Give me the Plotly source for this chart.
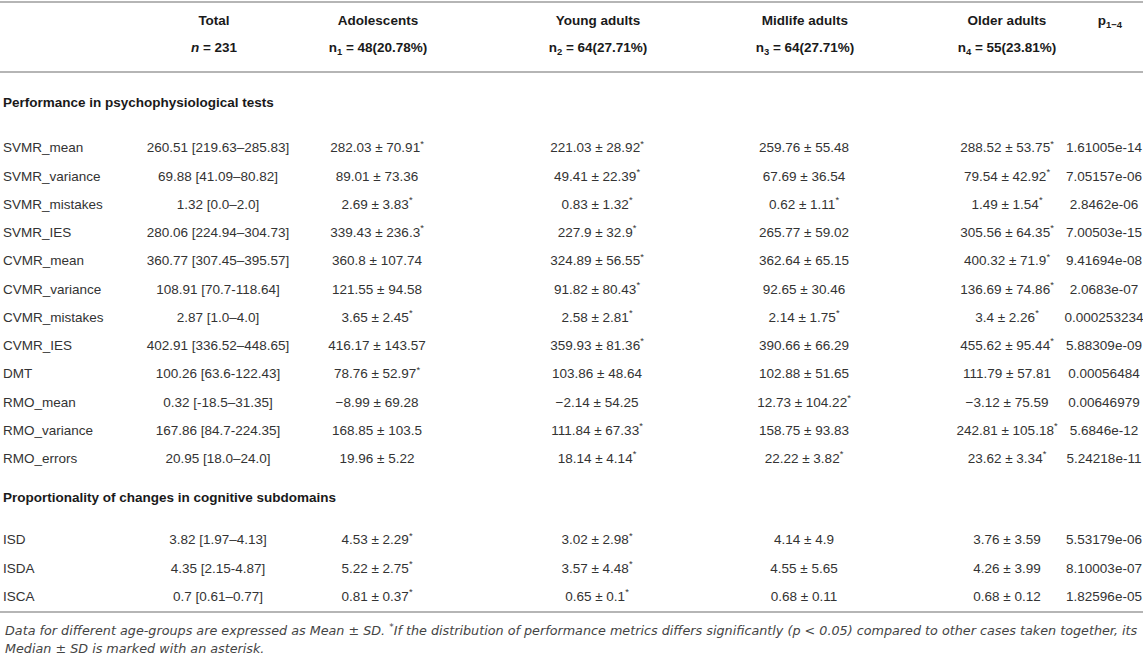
import plotly.graph_objects as go

# ---- data ----
col_headers = ["Total", "Adolescents", "Young adults", "Midlife adults", "Older adults", "p<sub>1−4</sub>"]
col_counts = ["<i>n</i> = 231", "n<sub>1</sub> = 48(20.78%)", "n<sub>2</sub> = 64(27.71%)",
              "n<sub>3</sub> = 64(27.71%)", "n<sub>4</sub> = 55(23.81%)", ""]

section_1 = "Performance in psychophysiological tests"
section_2 = "Proportionality of changes in cognitive subdomains"

labels_1 = ["SVMR_mean", "SVMR_variance", "SVMR_mistakes", "SVMR_IES", "CVMR_mean", "CVMR_variance",
            "CVMR_mistakes", "CVMR_IES", "DMT", "RMO_mean", "RMO_variance", "RMO_errors"]
labels_2 = ["ISD", "ISDA", "ISCA"]

total = ["260.51 [219.63–285.83]", "69.88 [41.09–80.82]", "1.32 [0.0–2.0]", "280.06 [224.94–304.73]",
         "360.77 [307.45–395.57]", "108.91 [70.7-118.64]", "2.87 [1.0–4.0]", "402.91 [336.52–448.65]",
         "100.26 [63.6-122.43]", "0.32 [-18.5–31.35]", "167.86 [84.7-224.35]", "20.95 [18.0–24.0]",
         "3.82 [1.97–4.13]", "4.35 [2.15-4.87]", "0.7 [0.61–0.77]"]

adol_mean = [282.03, 89.01, 2.69, 339.43, 360.8, 121.55, 3.65, 416.17, 78.76, -8.99, 168.85, 19.96, 4.53, 5.22, 0.81]
adol_sd = [70.91, 73.36, 3.83, 236.3, 107.74, 94.58, 2.45, 143.57, 52.97, 69.28, 103.5, 5.22, 2.29, 2.75, 0.37]
adol_sig = [1, 0, 1, 1, 0, 0, 1, 0, 1, 0, 0, 0, 1, 1, 1]

young_mean = [221.03, 49.41, 0.83, 227.9, 324.89, 91.82, 2.58, 359.93, 103.86, -2.14, 111.84, 18.14, 3.02, 3.57, 0.65]
young_sd = [28.92, 22.39, 1.32, 32.9, 56.55, 80.43, 2.81, 81.36, 48.64, 54.25, 67.33, 4.14, 2.98, 4.48, 0.1]
young_sig = [1, 1, 1, 1, 1, 1, 1, 1, 0, 0, 1, 1, 1, 1, 1]

mid_mean = [259.76, 67.69, 0.62, 265.77, 362.64, 92.65, 2.14, 390.66, 102.88, 12.73, 158.75, 22.22, 4.14, 4.55, 0.68]
mid_sd = [55.48, 36.54, 1.11, 59.02, 65.15, 30.46, 1.75, 66.29, 51.65, 104.22, 93.83, 3.82, 4.9, 5.65, 0.11]
mid_sig = [0, 0, 1, 0, 0, 0, 1, 0, 0, 1, 0, 1, 0, 0, 0]

older_mean = [288.52, 79.54, 1.49, 305.56, 400.32, 136.69, 3.4, 455.62, 111.79, -3.12, 242.81, 23.62, 3.76, 4.26, 0.68]
older_sd = [53.75, 42.92, 1.54, 64.35, 71.9, 74.86, 2.26, 95.44, 57.81, 75.59, 105.18, 3.34, 3.59, 3.99, 0.12]
older_sig = [1, 1, 1, 1, 1, 1, 1, 1, 0, 0, 1, 1, 0, 0, 0]

p_values = [1.61005e-14, 7.05157e-06, 2.8462e-06, 7.00503e-15, 9.41694e-08, 2.0683e-07, 0.000253234,
            5.88309e-09, 0.00056484, 0.00646979, 5.6846e-12, 5.24218e-11, 5.53179e-06, 8.10003e-07, 1.82596e-05]

footnote_lines = [
    "Data for different age-groups are expressed as Mean ± SD. <sup>*</sup>If the distribution of "
    "performance metrics differs significantly (p < 0.05) compared to other cases taken together, its",
    "Median ± SD is marked with an asterisk.",
]

# ---- layout constants (pixels) ----
W, H = 1143, 665
FONT = "Arial, Liberation Sans, Helvetica, sans-serif"
NOTE_FONT = "DejaVu Sans, Arial, sans-serif"
TXT = "#333333"
HEAD = "#1a1a1a"
head_x = [214, 378, 598, 805, 1007, 1110]
data_x = [218, 377, 597, 804, 1007, 1104]
label_x = 3
head_y = [22, 49]
sec_y = [104, 499]
row_step = 28.25
first_row_1 = 149
first_row_2 = 541
lines_y = [2, 72, 612]
note_y = [630, 648]


def fmt(v):
    return repr(v).replace("-", "−")


def cell(m, s, flag):
    t = fmt(m) + " ± " + fmt(s)
    return t + "<sup>*</sup>" if flag else t


n1 = len(labels_1)
row_y = [first_row_1 + i * row_step for i in range(n1)] + \
        [first_row_2 + i * row_step for i in range(len(labels_2))]
labels = labels_1 + labels_2

columns = [
    total,
    [cell(m, s, f) for m, s, f in zip(adol_mean, adol_sd, adol_sig)],
    [cell(m, s, f) for m, s, f in zip(young_mean, young_sd, young_sig)],
    [cell(m, s, f) for m, s, f in zip(mid_mean, mid_sd, mid_sig)],
    [cell(m, s, f) for m, s, f in zip(older_mean, older_sd, older_sig)],
    [repr(p) for p in p_values],
]

fig = go.Figure()

# header rows
for hy, row in zip(head_y, [col_headers, col_counts]):
    fig.add_trace(go.Scatter(
        x=head_x, y=[hy] * len(head_x), mode="text",
        text=["<b>%s</b>" % h for h in row], textposition="middle center",
        textfont=dict(family=FONT, size=13.5, color=HEAD), hoverinfo="skip"))

# section headings
fig.add_trace(go.Scatter(
    x=[label_x, label_x], y=sec_y, mode="text",
    text=["<b>%s</b>" % section_1, "<b>%s</b>" % section_2], textposition="middle right",
    textfont=dict(family=FONT, size=13.5, color=HEAD), hoverinfo="skip"))

# row labels
fig.add_trace(go.Scatter(
    x=[label_x] * len(labels), y=row_y, mode="text", text=labels, textposition="middle right",
    textfont=dict(family=FONT, size=13.5, color=TXT), hoverinfo="skip"))

# data columns
for cx, col in zip(data_x, columns):
    fig.add_trace(go.Scatter(
        x=[cx] * len(col), y=row_y, mode="text", text=col, textposition="middle center",
        textfont=dict(family=FONT, size=13.5, color=TXT), hoverinfo="skip"))

# horizontal rules
for ly in lines_y:
    fig.add_shape(type="line", xref="paper", x0=0, x1=1, yref="y", y0=ly, y1=ly,
                  line=dict(color="#b5b5b5", width=2))

# footnote
for ny, line in zip(note_y, footnote_lines):
    fig.add_annotation(
        text="<i>%s</i>" % line, xref="x", yref="y", x=label_x, y=ny, xanchor="left", yanchor="middle",
        showarrow=False, align="left", font=dict(family=NOTE_FONT, size=12.75, color="#444444"))

fig.update_xaxes(range=[0, W], visible=False, fixedrange=True)
fig.update_yaxes(range=[H, 0], visible=False, fixedrange=True)
fig.update_layout(width=W, height=H, margin=dict(l=0, r=0, t=0, b=0),
                  paper_bgcolor="white", plot_bgcolor="white", showlegend=False)

fig.write_html("out.html", config={"displayModeBar": False},
               post_script="document.body.style.margin='0';")
